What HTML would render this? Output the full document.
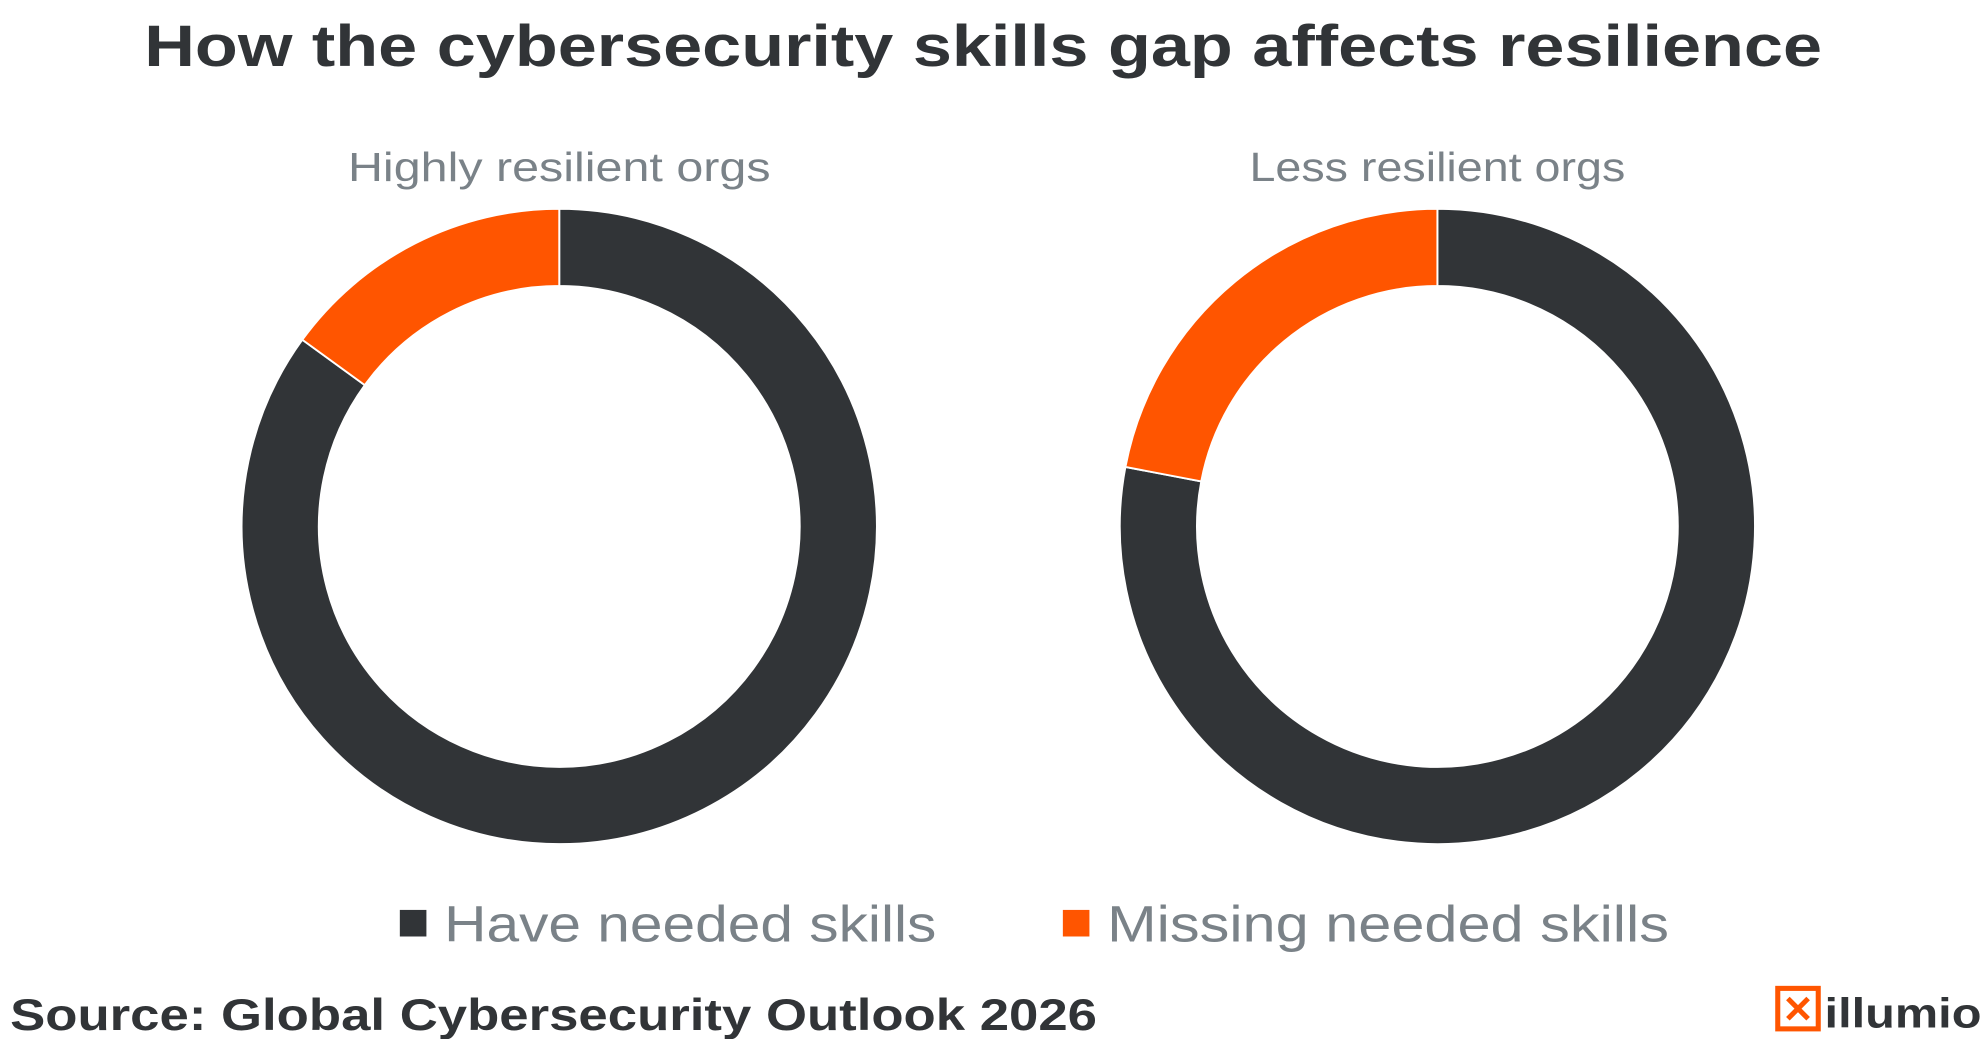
<!DOCTYPE html>
<html><head><meta charset="utf-8"><style>
html,body{margin:0;padding:0;background:#fff;}
svg{display:block;}
text{font-family:"Liberation Sans",sans-serif;}
</style></head><body>
<svg id="chart" width="1984" height="1039" viewBox="0 0 1568 821" preserveAspectRatio="none" xmlns="http://www.w3.org/2000/svg">
<text x="777" y="52" text-anchor="middle" font-size="46" font-weight="bold" fill="#313437" textLength="1326" lengthAdjust="spacingAndGlyphs">How the cybersecurity skills gap affects resilience</text>
<g id="donuts"></g>
<g>
<rect x="316" y="719" width="21" height="21" fill="#313437"/>
<text x="351" y="744" font-size="40" fill="#7a8288" textLength="389" lengthAdjust="spacingAndGlyphs">Have needed skills</text>
<rect x="840" y="719" width="21" height="21" fill="#ff5500"/>
<text x="875" y="744" font-size="40" fill="#7a8288" textLength="444" lengthAdjust="spacingAndGlyphs">Missing needed skills</text>
</g>
<text x="8" y="814" font-size="35" font-weight="bold" fill="#313437" textLength="859" lengthAdjust="spacingAndGlyphs">Source:  Global Cybersecurity Outlook 2026</text>
<g>
<rect x="1405" y="781" width="32" height="32" fill="none" stroke="#ff5500" stroke-width="4"/>
<path d="M1413 789 L1429 805 M1429 789 L1413 805" stroke="#ff5500" stroke-width="4"/>
<text x="1442" y="812" font-size="33" font-weight="bold" fill="#313437" textLength="124" lengthAdjust="spacingAndGlyphs">illumio</text>
</g>
</svg>
<script>
const groups = ["Highly resilient orgs", "Less resilient orgs"];
const haveSkills = [85, 78];
const missingSkills = [15, 22];
const seriesNames = ["Have needed skills", "Missing needed skills"];
const colors = ["#313437", "#ff5500"];

const NS = "http://www.w3.org/2000/svg";
const g = document.getElementById("donuts");
const centersX = [442, 1136], cy = 416, R = 251, r = 190;
const subW = [334, 297];
function pt(rad, frac){ const a = frac * 2 * Math.PI; return [Math.sin(a)*rad, -Math.cos(a)*rad]; }
function arc(cx, f0, f1){
  const large = (f1 - f0) > 0.5 ? 1 : 0;
  const [x0,y0]=pt(R,f0),[x1,y1]=pt(R,f1),[x2,y2]=pt(r,f1),[x3,y3]=pt(r,f0);
  return `M${cx+x0} ${cy+y0} A${R} ${R} 0 ${large} 1 ${cx+x1} ${cy+y1} L${cx+x2} ${cy+y2} A${r} ${r} 0 ${large} 0 ${cx+x3} ${cy+y3} Z`;
}
groups.forEach((name, i) => {
  const cx = centersX[i];
  const t = document.createElementNS(NS, "text");
  
  
  t.setAttribute("x", cx); t.setAttribute("y", 143);
  t.setAttribute("text-anchor", "middle"); t.setAttribute("font-size", "32");
  t.setAttribute("fill", "#7a8288");
  t.setAttribute("textLength", subW[i]); t.setAttribute("lengthAdjust", "spacingAndGlyphs");
  t.textContent = name; g.appendChild(t);
  const total = haveSkills[i] + missingSkills[i];
  const fm = missingSkills[i] / total;
  const have = document.createElementNS(NS, "path");
  
  
  have.setAttribute("d", arc(cx, 0, 1 - fm));
  have.setAttribute("fill", colors[0]); have.setAttribute("stroke", "#fff"); have.setAttribute("stroke-width", "1.5");
  g.appendChild(have);
  const miss = document.createElementNS(NS, "path");
  
  
  miss.setAttribute("d", arc(cx, 1 - fm, 1));
  miss.setAttribute("fill", colors[1]); miss.setAttribute("stroke", "#fff"); miss.setAttribute("stroke-width", "1.5");
  g.appendChild(miss);
});
</script>
</body></html>
